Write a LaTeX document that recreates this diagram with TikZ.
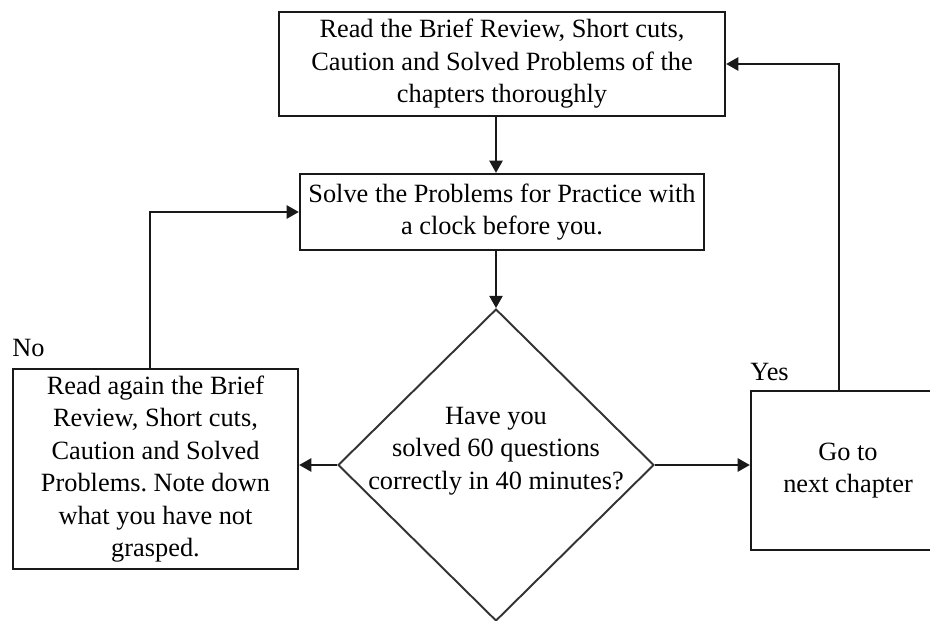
\documentclass[tikz,border=0pt]{standalone}
\usepackage{fontspec}
\setmainfont{Liberation Serif}
\usetikzlibrary{shapes,arrows,arrows.meta}
\tikzset{
	block/.style    = {draw=black!90, line width=1.3pt, rectangle, align=center, inner sep=2pt},
	decision/.style = {draw=black!80, line width=1.1pt, diamond, aspect=1, inner sep=0pt},
	tag/.style      = {anchor=west, inner sep=0pt}, % Yes / No
	line/.style     = {draw=black!90, line width=1.3pt}
}
\newcommand{\flowtext}{\fontsize{15}{18.5}\selectfont}
\frenchspacing

\begin{document}
\begin{tikzpicture}[x=0.02cm, y=-0.02cm, >={Triangle[length=7pt,width=7.5pt]}, font=\flowtext]
		\clip (0,0) rectangle (930,621);
		% Drawing the boxes
		\node at (502,64) [block, minimum width=8.92cm, minimum height=2.08cm] (read)
			{Read the Brief Review, Short cuts,\\Caution and Solved Problems of the\\chapters\ thoroughly};
		\node at (502,212) [block, minimum width=8.08cm, minimum height=1.52cm] (solve)
			{Solve the Problems for Practice with\\a clock before you.};
		\node at (496,465) [decision, minimum width=6.32cm, minimum height=6.24cm,
			label={[align=center, yshift=0.28cm]center:Have you\\solved 60 questions\\correctly in 40 minutes?}] (dec) {};
		\node at (155.5,469) [block, minimum width=5.7cm, minimum height=4cm] (again)
			{Read again the Brief\\Review, Short cuts,\\Caution and Solved\\Problems. Note down\\what you have not\\grasped.};
		\node at (848,470.5) [block, minimum width=3.88cm, minimum height=3.18cm] (next)
			{Go to\\next chapter};
		\node[tag] (no) at (12,348) {No};
		\node[tag] (yes) at (750,372) {Yes};
		
		% Corners of the two loops
		\coordinate (noturn) at (150,211);
		\coordinate (yesturn) at (839,65);
		
		\draw[->, line] (read.south -| dec.north) -- (solve.north -| dec.north);
		\draw[->, line] (solve.south -| dec.north) -- (dec.north);
		\draw[->, line] (dec.west) -- (dec.west -| again.east);
		\draw[->, line] (dec.east) -- (dec.east -| next.west);
		\draw[->, line] (again.north -| noturn) |- (solve.west);
		\draw[->, line] (next.north -| yesturn) |- (read.east);
		
\end{tikzpicture}
\end{document}
